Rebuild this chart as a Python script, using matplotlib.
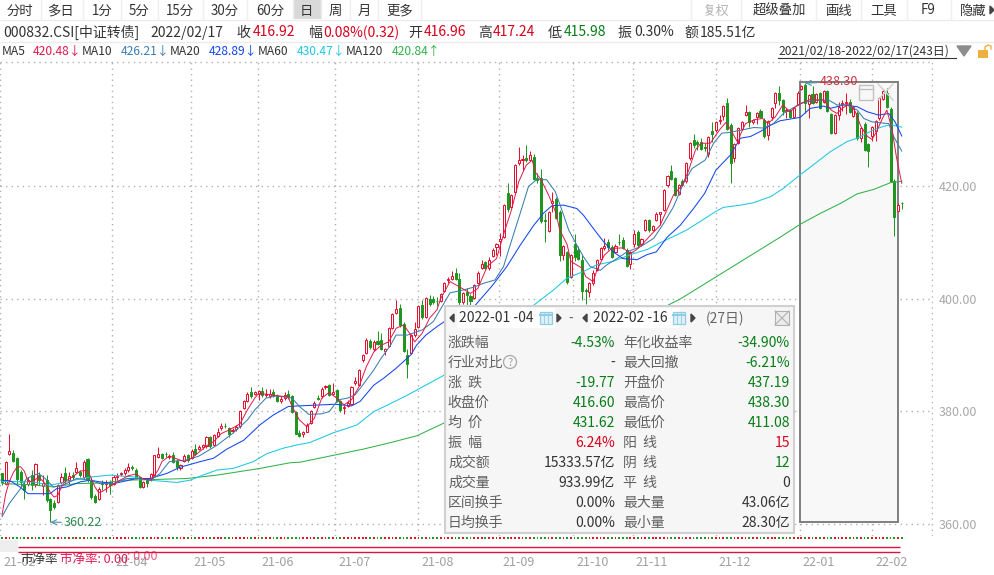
import matplotlib
matplotlib.use("Agg")
import matplotlib.pyplot as plt
from matplotlib.patches import Rectangle, Circle
from matplotlib.transforms import ScaledTranslation, blended_transform_factory

plt.rcParams["font.family"] = ["Noto Sans CJK JP", "DejaVu Sans"]

opens = [368.9,367.1,372.4,372.6,371.6,369.2,366.8,367.1,368.6,367.1,
368.6,366.6,367.7,364.3,363.6,363.9,367.4,369.0,367.8,368.6,
369.2,369.2,368.3,371.4,367.8,364.9,364.3,367.2,367.0,367.4,
367.1,368.3,368.8,369.0,369.5,370.1,369.5,368.2,366.5,367.7,
367.8,368.6,371.9,372.3,372.4,371.9,372.1,371.1,369.8,371.1,
372.1,371.7,373.2,373.2,373.6,373.7,375.3,374.0,375.6,376.9,
377.4,376.9,376.4,376.8,377.3,380.5,381.8,383.4,383.0,383.0,
383.6,382.8,382.7,383.4,382.7,381.8,382.3,383.1,382.7,379.9,
376.1,375.9,376.3,377.9,380.7,382.3,382.7,384.2,384.6,383.1,
383.7,381.7,380.5,380.9,381.3,384.9,384.6,389.0,390.4,392.5,
391.0,392.5,392.6,390.6,391.6,394.8,397.5,398.3,395.5,390.0,
390.4,393.5,394.9,398.8,396.8,399.9,399.9,399.6,399.6,401.4,
403.2,403.5,404.5,403.5,399.4,401.2,400.5,400.1,402.8,405.4,
406.4,405.5,407.6,409.1,410.2,410.9,418.7,416.3,419.0,424.0,
424.6,424.9,424.7,425.2,421.4,421.4,413.9,412.0,417.0,417.7,
415.4,407.7,408.2,403.9,409.7,408.7,406.8,401.5,401.2,402.7,
405.0,407.0,408.9,410.1,409.2,408.3,410.1,410.4,408.7,406.2,
409.6,411.9,409.6,412.2,414.0,412.2,413.9,415.1,415.8,420.1,
422.7,421.4,418.6,420.8,420.8,424.9,428.2,427.8,427.9,426.9,
425.7,429.8,429.9,431.6,432.5,434.7,430.9,424.9,427.6,430.1,
432.7,433.2,431.3,432.2,433.3,431.8,429.1,432.3,434.7,436.5,
435.2,433.3,433.5,432.3,434.6,437.2,438.0,434.5,436.4,434.9,
436.5,435.0,436.8,432.8,429.5,432.6,434.5,434.7,435.0,432.5,
433.0,428.5,431.1,427.5,428.9,429.7,432.0,435.4,436.5,433.7,
420.9,415.6,416.96]

closes = [367.4,371.0,372.9,371.2,368.0,367.4,365.9,367.8,366.8,370.5,
367.7,367.2,364.1,362.4,363.0,366.8,368.2,367.7,368.4,368.2,
369.8,368.6,371.0,367.7,364.7,363.9,366.2,367.0,367.2,366.8,
368.3,368.5,369.0,369.5,370.1,369.8,368.2,366.5,367.4,367.2,
368.8,372.1,372.4,371.7,372.3,372.0,371.0,370.1,370.4,372.0,
371.3,372.9,372.4,373.6,373.9,375.4,373.7,375.7,376.3,377.4,
377.3,376.0,376.7,377.1,380.0,381.8,383.0,382.7,383.3,383.6,
382.8,383.1,383.1,382.8,381.8,382.1,382.8,382.5,379.9,376.0,
375.6,376.2,377.5,380.0,381.5,382.2,383.9,384.5,382.9,383.4,
381.8,380.1,380.8,381.5,384.2,385.3,387.3,390.0,392.6,391.3,
392.3,392.0,391.1,391.0,394.7,397.2,398.1,395.3,390.7,388.4,
393.5,394.5,398.7,396.7,400.1,399.0,399.4,399.5,400.8,402.7,
403.4,404.0,403.5,399.4,401.0,400.6,399.6,402.4,404.6,406.1,
405.5,406.8,408.7,409.6,410.5,416.6,415.9,418.4,423.7,424.7,
424.8,424.7,425.5,421.2,421.1,413.7,413.7,415.3,417.4,414.3,
407.7,409.3,403.0,407.7,407.3,407.1,401.4,401.3,402.7,404.5,
406.8,409.0,409.3,409.1,407.4,409.4,410.0,409.0,405.7,408.3,
411.4,409.5,410.6,414.0,412.2,412.8,415.1,415.3,419.3,421.8,
421.2,418.4,420.2,420.2,424.0,427.6,427.3,427.5,426.6,426.7,
428.7,429.2,431.4,431.8,434.2,430.1,424.0,427.4,430.3,431.3,
433.1,431.3,431.7,432.9,432.2,428.8,431.6,433.8,436.5,435.3,
433.4,433.5,432.3,433.9,436.6,437.8,434.7,436.2,434.7,436.4,
433.9,436.8,433.4,429.5,432.6,434.1,434.7,435.0,433.2,434.0,
428.5,430.3,426.4,426.3,430.4,431.5,435.6,436.9,434.0,420.9,
414.5,416.7,416.92]

highs = [368.9,371.2,375.9,373.0,371.9,369.5,367.4,368.3,369.5,370.7,
369.2,368.6,368.6,364.6,364.1,367.1,368.9,370.1,369.2,369.2,
371.0,369.6,371.3,371.6,368.3,365.2,366.5,367.8,367.8,367.7,
368.6,368.9,369.2,369.8,370.8,370.4,369.8,368.3,367.6,367.9,
369.0,372.2,373.6,372.5,372.7,372.4,372.7,371.4,370.6,372.4,
372.4,373.2,374.1,373.9,374.1,375.6,375.6,376.0,377.0,377.8,
377.9,377.1,377.0,377.6,380.2,382.0,383.3,384.3,383.5,383.8,
384.3,384.0,384.0,384.0,383.0,382.6,383.4,383.7,382.9,380.0,
376.6,376.4,377.8,380.2,381.8,382.9,384.3,384.7,384.8,385.0,
383.9,381.9,381.1,382.0,384.4,386.1,387.5,390.2,392.9,392.8,
392.6,394.2,393.9,391.2,395.0,397.4,399.7,399.1,395.8,391.0,
393.7,395.8,398.9,399.7,400.3,400.7,400.5,400.3,401.0,402.9,
403.9,404.8,405.4,404.5,401.2,401.8,400.8,402.6,404.8,406.9,
406.7,407.4,409.0,409.9,411.6,416.8,420.5,418.6,423.9,427.0,
425.5,427.3,426.2,425.7,422.3,423.1,415.2,415.5,419.0,418.0,
415.8,409.5,408.4,407.9,411.5,409.4,407.8,401.9,402.9,405.1,
407.0,409.2,410.7,410.5,409.5,409.6,411.4,410.9,408.9,408.5,
412.2,412.1,410.8,414.2,414.2,413.0,415.3,415.3,419.5,422.0,
423.7,421.6,420.4,421.3,424.2,427.8,429.2,428.2,428.5,427.6,
428.9,431.4,431.6,432.6,434.4,435.6,431.2,427.6,430.5,431.5,
434.4,433.4,431.9,433.1,433.6,432.0,431.8,434.0,436.7,437.8,
435.4,433.9,433.7,434.1,436.8,437.9,438.3,436.4,437.7,436.6,
436.7,437.0,437.0,433.0,432.8,435.0,435.2,436.6,435.4,434.2,
433.3,430.5,431.4,427.7,430.6,431.8,435.8,437.2,437.5,434.0,
421.2,416.9,417.24]

lows = [366.9,366.9,372.1,370.9,367.0,366.5,364.4,366.6,365.9,366.5,
366.8,365.0,363.8,360.22,362.6,363.6,367.1,367.1,367.0,367.7,
368.9,368.3,368.0,367.4,364.4,363.6,364.1,365.9,365.6,365.3,
366.8,367.7,368.4,368.6,369.2,369.5,368.0,366.4,366.4,366.5,
367.6,368.4,371.6,371.4,371.9,371.5,370.8,369.5,369.6,371.0,
371.0,371.5,372.2,373.0,373.3,373.5,373.4,373.8,375.3,376.7,
377.0,375.4,376.1,376.5,377.0,380.3,381.6,382.4,382.8,381.9,
382.5,382.5,382.4,382.5,381.6,381.5,382.0,382.2,379.6,375.9,
375.4,375.4,376.2,377.7,380.5,381.9,382.4,384.0,382.7,382.9,
381.6,379.9,379.4,380.7,381.1,384.6,384.4,388.8,390.2,391.0,
390.6,391.7,390.9,390.0,391.4,394.6,397.3,395.0,390.5,385.8,
390.2,393.2,394.7,396.4,396.6,398.7,399.0,398.7,399.4,401.2,
402.7,403.3,403.3,398.8,399.1,398.8,398.8,399.9,402.6,405.2,
405.3,405.0,407.4,407.8,407.5,410.7,415.4,416.1,418.8,423.7,
422.9,424.3,424.5,421.1,420.5,413.5,410.0,411.8,415.4,414.1,
406.7,406.8,402.6,403.7,406.6,406.9,399.7,399.0,400.3,402.4,
404.8,406.8,408.6,408.6,407.2,408.1,409.5,408.8,405.6,405.2,
409.2,409.0,409.4,412.0,411.9,412.0,413.7,413.0,415.6,419.9,
421.0,418.2,418.4,420.0,420.6,424.7,426.7,426.4,426.4,426.3,
425.2,427.9,429.6,431.1,431.7,430.0,420.6,424.3,427.4,429.9,
432.5,430.5,431.0,431.1,432.0,428.6,428.2,431.7,433.8,434.4,
432.6,432.1,432.0,432.1,434.4,437.1,432.9,432.0,434.5,434.7,
433.7,434.8,433.2,429.2,429.3,431.8,433.4,432.8,432.9,432.3,
428.2,427.9,426.2,423.3,428.0,428.0,431.8,435.2,433.8,420.7,
411.08,415.4,415.98]

ma5_idx = [0,1,2,3,4,5,6,7,8,10,12,13,14,15,16,17,19,21,23,24,25,26,27,29,32,34,36,38,40,42,43,45,47,49,51,53,55,57,59,61,64,66,68,69,71,74,77,78,80,82,84,86,88,90,92,94,96,98,100,102,104,106,108,110,111,113,115,117,118,120.5,123,126,128,130.5,133,135,137,139,141,142.6,143.4,145,147,149,150,152,153,156,157,159,160,162,164,167,169,170.5,172,174.5,177,180.6,183,184.7,186.5,188,190.5,193,194.7,196,198,198.5,200,202.5,204.6,206,208,210,212,213.5,215,217,219.3,221,223,224.6,226,228,229.5,231,232.8,234,235,236.8,238,239.4,240.6,242]
ma5_val = [361.5,365.3,367.5,369.0,370.0,370.1,369.3,367.5,367.5,368.2,366.8,365.5,364.7,365.0,366.5,367.5,368.3,369.3,369.5,368.0,366.5,365.5,365.7,366.6,367.8,368.5,368.8,367.9,367.7,369.5,371.0,372.0,371.5,371.0,371.6,372.7,373.8,374.6,376.0,376.6,377.7,380.2,382.3,383.1,383.0,382.7,382.5,380.8,378.4,377.2,378.7,382.3,383.3,382.3,381.1,382.0,384.3,387.9,390.5,391.7,392.3,394.7,395.3,393.5,392.3,393.8,396.5,398.0,400.0,403.0,402.1,400.9,401.8,405.7,407.1,411.6,415.7,420.8,423.7,424.6,422.5,421.1,418.4,415.2,412.2,409.6,406.6,405.4,403.9,403.0,405.0,407.7,408.9,409.0,408.0,408.6,409.5,411.3,413.0,418.4,420.2,422.8,426.4,427.6,427.6,430.0,431.3,430.0,427.6,429.0,431.1,431.8,432.0,431.1,432.3,434.4,433.2,434.1,434.7,435.3,435.3,435.3,433.5,432.9,433.8,434.7,433.2,430.6,428.8,428.3,429.4,432.0,433.5,430.0,425.0,420.48]

ma10_idx = [0,2,5,6.6,9.8,11.6,13.8,16.5,20,23.7,26.4,30,33.5,37,40,42.5,45,49.7,53,57.8,62,66,68,71,74,78,80,82.5,86,88,90.5,93,95,97,100,102,104.5,106,109,113,116,118.3,120.5,124,126.8,129.5,132.6,134.9,137.1,139.4,141.6,143.9,146.5,148.8,150.6,152.4,154.6,156.4,158.2,160.9,162.7,165.4,168.1,171.7,175.3,178,180.6,183.3,185.6,189.1,191.4,193.6,195.4,198.6,202.2,204.8,207.5,210.2,214.9,218.3,222.3,224.6,227.3,230,231.8,234,236.7,238.5,239.8,242]
ma10_val = [361.2,363.6,366.2,368.0,368.9,368.0,366.5,366.8,368.0,367.7,367.1,367.1,368.0,368.0,367.7,368.9,371.0,371.3,372.0,373.9,376.0,378.4,380.2,382.3,382.7,382.3,380.8,379.4,379.5,379.9,382.0,382.3,382.9,384.6,387.3,389.4,391.7,393.5,393.5,394.4,395.9,398.5,401.0,401.5,402.0,402.7,403.3,405.7,410.4,415.2,419.9,421.2,421.1,419.0,415.7,412.2,409.5,407.4,405.7,405.0,406.0,407.1,408.3,409.2,410.7,413.4,416.3,420.5,423.1,424.6,427.6,429.4,429.5,429.9,430.4,430.3,431.1,432.9,434.7,435.2,435.3,434.4,434.4,433.5,432.0,431.4,431.2,431.1,428.8,426.21]

ma20_idx = [0,2.2,4.8,7,12.9,14.7,17.4,21,23.7,26.4,30,33.5,36.2,39.8,44.3,47.9,53.3,56.9,60.4,65,69.5,73,77,79.6,89.6,94,96.3,100,102.6,106,110,111.5,114,117,119,127.3,132,135.8,139.4,143,145.7,147.9,151,154.6,156.4,159,161.8,164.4,167,170.8,173.5,176,178.9,182.4,186,189,192,195.9,198.6,201.3,204,207,209.3,214.7,217.4,221,222.8,226.4,230,232.7,235.8,238.5,240.2,242]
ma20_val = [367.7,367.6,366.5,365.3,365.3,366.2,366.5,367.4,367.7,367.4,367.1,367.6,368.0,368.0,368.9,370.0,371.0,371.6,373.2,374.8,377.6,379.3,380.8,380.9,381.2,380.9,381.7,384.6,385.8,387.6,390.0,391.7,393.5,395.0,395.9,398.8,402.4,405.7,409.5,413.0,415.2,416.5,416.6,416.0,414.8,412.5,410.1,408.3,407.1,406.9,407.8,408.3,410.9,413.0,416.0,418.7,422.8,425.5,428.5,428.8,429.7,430.9,431.6,432.2,433.8,434.2,433.8,434.4,434.1,433.2,432.6,432.9,431.4,428.89]

ma60_idx = [0,8.4,12.9,17.4,22.8,29,35.3,39.8,47,50.6,54,57.8,62.2,67.6,71.2,75.7,79.6,82.8,89,95.4,100,103.5,109,114,119,143,148.3,151.9,156.4,160,164.4,169,173.5,177,182.4,184.2,187.8,191.8,194,198.6,202,206.7,210.2,214.7,218.3,222.8,227.3,230,234.5,237.1,239,242]
ma60_val = [367.5,367.4,366.8,367.4,368.2,368.6,368.3,367.7,367.3,367.7,368.6,369.5,369.8,371.0,372.4,373.4,374.0,374.4,376.1,377.5,379.9,381.0,382.8,384.6,386.4,398.8,401.5,403.6,404.8,406.0,406.6,407.8,408.7,409.9,411.6,412.2,413.7,415.4,416.2,416.6,417.0,418.1,419.6,422.0,423.8,426.1,427.9,428.5,430.0,430.6,430.9,430.47]

ma120_idx = [0,7.5,13.8,20,27.3,32.6,39.8,49.7,57.8,69.4,77.5,80.2,97,104,111.6,119,179.7,182.4,209.3,214.7,220,225.5,230,234.5,239,242]
ma120_val = [367.1,366.9,366.5,367.1,367.2,367.7,367.8,368.0,368.6,369.8,370.8,370.9,373.2,374.3,375.6,377.9,399.0,399.9,410.9,413.2,415.1,416.9,418.6,419.4,420.6,420.84]

y_ticks = [420, 400, 380, 360]
x_tick_pos = [-0.5, 29.6, 50.8, 68.9, 89.6, 111.9, 133.7, 153.6, 169.7, 192, 214.6, 234]
x_tick_labels = ["21-02","21-04","21-05","21-06","21-07","21-08","21-09","21-10","21-11","21-12","22-01","22-02"]

RED = "#e8112d"; GREEN = "#1f961f"; TXT = "#333333"
TRED = "#d9001b"; TGREEN = "#067d17"; GRID = "#b0b0b0"

fig = plt.figure(figsize=(9.94, 5.75), dpi=100, facecolor="white")
ax = fig.add_axes([0, (575-536)/575, 933/994, (536-61)/575])
ax.set_xlim(-2/3.718, 931/3.718)
ax.set_ylim(357.78, 442.22)
for s in ax.spines.values():
    s.set_visible(False)
ax.yaxis.tick_right()
ax.set_yticks(y_ticks, [f"{v:.2f}" for v in y_ticks], color="#a8a8a8", fontsize=9)
ax.set_xticks(x_tick_pos, x_tick_labels, color="#a0a0a0", fontsize=9, ha="left")
ax.tick_params(length=0)
ax.tick_params(axis="x", pad=14.5)
ax.tick_params(axis="y", pad=4)
off = ScaledTranslation(3/100, 0, fig.dpi_scale_trans)
for lab in ax.get_xticklabels():
    lab.set_transform(lab.get_transform() + off)
ax.grid(True, color=GRID, linestyle=(0, (1, 3)), linewidth=1.0)
ax.set_axisbelow(True)
ax.axhline(442.1, color=GRID, linestyle=(0, (1, 3)), linewidth=1.0)
ax.axvline(250.1, color=GRID, linestyle=(0, (1, 3)), linewidth=1.0)

# selected range
ax.add_patch(Rectangle((214.6, 360.25), 26.4, 78.3, facecolor="#f8f8f8", edgecolor="#7f7f7f", linewidth=1.4, zorder=1.2))

idx = list(range(len(opens)))
for i, o, c, h, l in zip(idx, opens, closes, highs, lows):
    col = RED if c >= o else GREEN
    ax.vlines(i, l, h, color=col, linewidth=0.72, zorder=2, snap=True)
    body = max(abs(c - o), 0.06)
    ax.bar(i, body, bottom=min(o, c), width=0.56, facecolor="white" if c >= o else col,
           edgecolor=col, linewidth=0.72, zorder=2.2, snap=True)

ax.plot(ma120_idx, ma120_val, color="#2fb24a", lw=0.75, zorder=3)
ax.plot(ma60_idx, ma60_val, color="#1cc8e0", lw=0.75, zorder=3)
ax.plot(ma20_idx, ma20_val, color="#1446f0", lw=0.75, zorder=3)
ax.plot(ma10_idx, ma10_val, color="#3c7db0", lw=0.75, zorder=3)
ax.plot(ma5_idx, ma5_val, color="#e0184a", lw=0.7, zorder=3)

ax.annotate("360.22", xy=(13, 360.22), xytext=(16.7, 360.22), color="#2a8a50", fontsize=9, va="center",
            arrowprops=dict(arrowstyle="->", color="#4a95a8", lw=0.8, shrinkA=0, shrinkB=0), zorder=4)
ax.annotate("438.30", xy=(216, 438.3), xytext=(220, 438.5), color="#d0303f", fontsize=9, va="center",
            arrowprops=dict(arrowstyle="->", color="#4a95a8", lw=0.8, shrinkA=0, shrinkB=0), zorder=4)

# per-candle strip under the price area
tr = blended_transform_factory(ax.transData, fig.transFigure)
ax.scatter(idx, [1 - 538/575] * len(idx), transform=tr, marker="s", s=1.6, linewidths=0, clip_on=False,
           c=[("#e8112d" if c >= o else "#1f9a2a") for o, c in zip(opens, closes)], zorder=2)

ov = fig.add_axes([0, 0, 1, 1], zorder=5)
ov.set_xlim(0, 994); ov.set_ylim(575, 0); ov.axis("off"); ov.patch.set_alpha(0)

def t(x, y, s, color=TXT, size=10, ha="left", **kw):
    return ov.text(x, y, s, color=color, fontsize=size, ha=ha, va="center", **kw)

def hl(y, x0=0, x1=994, color="#ececec", lw=1):
    ov.plot([x0, x1], [y, y], color=color, lw=lw, solid_capstyle="butt")

# toolbar
ov.add_patch(Rectangle((293, 0), 28, 19, facecolor="#d9d9d9", edgecolor="none"))
hl(19.5)
hl(41.5)
for x in [41, 83, 121, 158, 203, 247, 293, 321, 350, 378, 421, 691, 741, 816, 861, 907, 951]:
    ov.plot([x, x], [0, 19], color="#efefef", lw=1)
for x, s in [(20, "分时"), (61, "多日"), (102, "1分"), (139, "5分"), (180, "15分"), (225, "30分"), (270, "60分"),
             (306, "日"), (335, "周"), (364, "月"), (400, "更多"), (779, "超级叠加"), (839, "画线"), (884, "工具"),
             (928, "F9"), (973, "隐藏")]:
    t(x, 10.5, s, size=9.6, ha="center")
t(716, 10.5, "复权", color="#b5b5b5", size=9.6, ha="center")
ov.fill([990, 994, 990], [6, 10, 14], color="#444444")

# quote row
for x, s, c in [(3, "000832.CSI[中证转债]", TXT), (150, "2022/02/17", TXT), (237, "收", TXT), (253, "416.92", TRED),
                (308, "幅", TXT), (323, "0.08%(0.32)", TRED), (408, "开", TXT), (424, "416.96", TRED),
                (478, "高", TXT), (493, "417.24", TRED), (548, "低", TXT), (564, "415.98", TGREEN),
                (618, "振", TXT), (634, "0.30%", TXT), (684, "额", TXT), (700, "185.51亿", TXT)]:
    t(x, 32.5, s, color=c, size=10)

# MA row
for x, s, c in [(2, "MA5", TXT), (33, "420.48↓", "#e0184a"), (82, "MA10", TXT), (121, "426.21↓", "#3c7db0"),
                (170, "MA20", TXT), (209, "428.89↓", "#1446f0"), (258, "MA60", TXT), (297, "430.47↓", "#1cc8e0"),
                (346, "MA120", TXT), (392, "420.84↑", "#2fb24a")]:
    t(x, 51.5, s, color=c, size=8.7)
t(778, 51.5, "2021/02/18-2022/02/17(243日)", size=8.7)
ov.plot([778, 956], [57.5, 57.5], color=TXT, lw=0.8)
ov.fill([957, 971, 964], [46, 46, 56], color="#8c8c8c")
ov.add_patch(Rectangle((978, 50), 10, 8, facecolor="#f0b040", edgecolor="none"))
ov.plot([985, 985, 988, 991, 991], [50, 47, 45, 46, 49], color="#f0b040", lw=1)

# icons in the selected box
ov.add_patch(Rectangle((859, 85), 14, 15, facecolor="none", edgecolor="#c0c0c0", lw=1))
ov.plot([859, 873], [89, 89], color="#c0c0c0", lw=1)
ov.plot([878, 893], [84, 100], color="#cfcfcf", lw=1)
ov.plot([878, 893], [100, 84], color="#cfcfcf", lw=1)

# lower strips
ov.add_patch(Rectangle((0, 540), 18, 12, facecolor="#eeeeee", edgecolor="none"))
hl(546.5, 18, 900, color="#dc1440", lw=1.0)
hl(551.5, 18, 900, color="#dc1440", lw=1.0)
ghost = t(127, 556, ": 0.00", color="#e01850", size=9, alpha=0.7)
ghost.set_clip_path(Rectangle((0, 552), 994, 5, transform=ov.transData))
t(20, 559, "市净率", color="#333333", size=9)
t(60, 559, "市净率: 0.00", color="#e01850", size=9)

# range panel
ov.add_patch(Rectangle((445, 306), 349, 227, facecolor="#f6f6f6", edgecolor="#d0d0d0", lw=1.5, zorder=6))
Z = 7
ov.add_patch(Rectangle((457, 308), 98, 20, facecolor="white", edgecolor="none", zorder=Z))
ov.add_patch(Rectangle((591, 308), 89, 20, facecolor="white", edgecolor="none", zorder=Z))
for x, d in [(452, -1), (559, 1), (585, -1), (693, 1)]:
    ov.fill([x - 2*d, x + 2*d, x - 2*d], [314, 318, 322], color="#444444", zorder=Z)
for x in (540, 673):
    ov.add_patch(Rectangle((x, 312), 12, 12, facecolor="#dff1f8", edgecolor="#8fcde4", lw=0.9, zorder=Z))
    ov.plot([x, x + 12], [314.5, 314.5], color="#8fcde4", lw=1.5, zorder=Z)
    ov.plot([x + 4, x + 4], [312, 324], color="#8fcde4", lw=0.6, zorder=Z)
    ov.plot([x + 8, x + 8], [312, 324], color="#8fcde4", lw=0.6, zorder=Z)
ZT = dict(zorder=8)
t(459, 318.5, "2022-01 -04", size=10, **ZT)
t(593, 318.5, "2022-02 -16", size=10, **ZT)
t(571, 318.5, "-", color="#666666", size=10, ha="center", **ZT)
t(706, 318.5, "(27日)", color="#666666", size=10, **ZT)
ov.add_patch(Rectangle((775, 311), 14, 14, facecolor="#ececec", edgecolor="#b0b0b0", lw=0.8, zorder=Z))
ov.plot([775, 789], [311, 325], color="#b0b0b0", lw=0.8, zorder=Z)
ov.plot([775, 789], [325, 311], color="#b0b0b0", lw=0.8, zorder=Z)

left_labels = ["涨跌幅", "行业对比", "涨  跌", "收盘价", "均  价", "振  幅", "成交额", "成交量", "区间换手", "日均换手"]
left_values = ["-4.53%", "-", "-19.77", "416.60", "431.62", "6.24%", "15333.57亿", "933.99亿", "0.00%", "0.00%"]
left_colors = [TGREEN, TXT, TGREEN, TGREEN, TGREEN, TRED, TXT, TXT, TXT, TXT]
right_labels = ["年化收益率", "最大回撤", "开盘价", "最高价", "最低价", "阳  线", "阴  线", "平  线", "最大量", "最小量"]
right_values = ["-34.90%", "-6.21%", "437.19", "438.30", "411.08", "15", "12", "0", "43.06亿", "28.30亿"]
right_colors = [TGREEN, TGREEN, TGREEN, TGREEN, TGREEN, TRED, TGREEN, TXT, TXT, TXT]
LBL = "#606060"
for r in range(10):
    y = 342.8 + 20 * r
    t(448, y, left_labels[r], color=LBL, size=10, **ZT)
    t(615, y, left_values[r], color=left_colors[r], size=10, ha="right", **ZT)
    t(623, y, right_labels[r], color=LBL, size=10, **ZT)
    t(790, y, right_values[r], color=right_colors[r], size=10, ha="right", **ZT)
ov.add_patch(Circle((510, 362), 6.5, facecolor="none", edgecolor="#a8a8a8", lw=0.9, zorder=Z))
t(510, 362.5, "?", color="#a8a8a8", size=8, ha="center", **ZT)

fig.savefig("out.png", dpi=100)
